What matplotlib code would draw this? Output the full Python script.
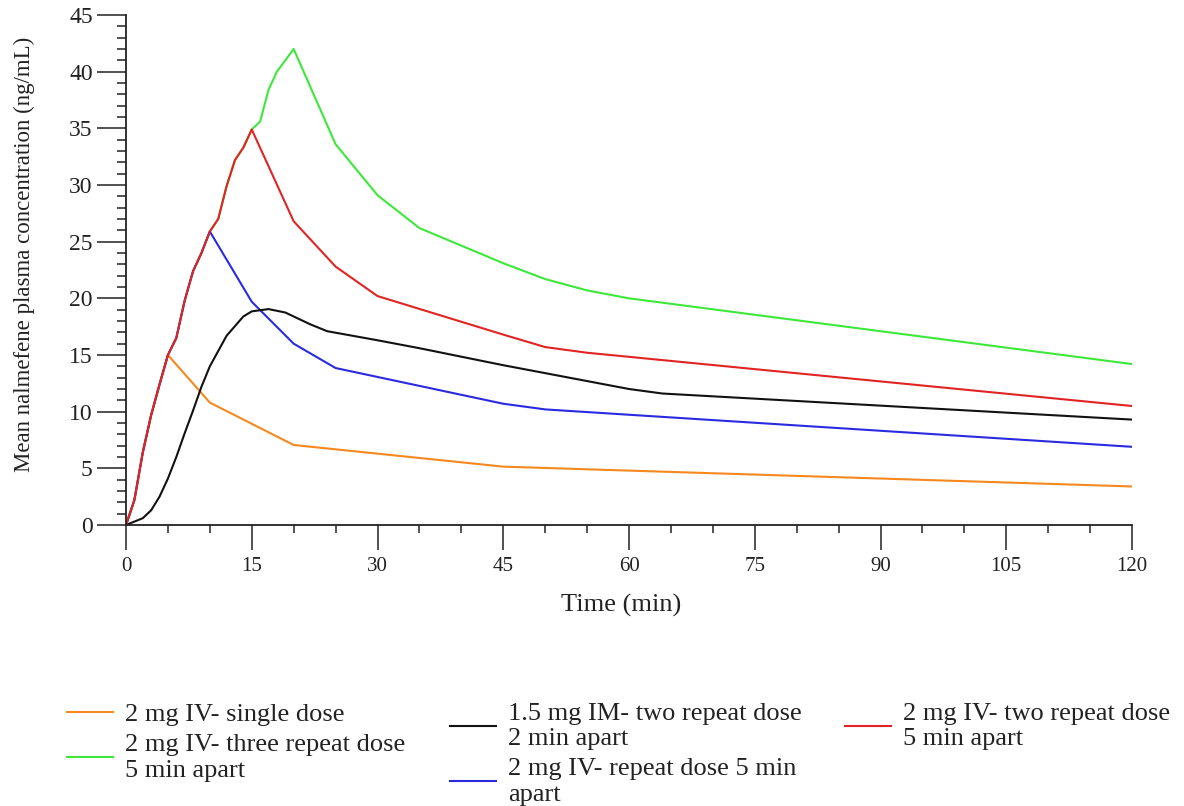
import matplotlib
matplotlib.use('Agg')
import matplotlib.pyplot as plt
from matplotlib.ticker import MultipleLocator

plt.rcParams['font.family'] = ['Liberation Serif', 'DejaVu Serif']

# time (min) / mean plasma concentration (ng/mL)
rise_t = [0, 1, 2, 3, 4, 5, 6, 7, 8, 9, 10, 11, 12, 13, 14, 15]
rise_c = [0, 2.2, 6.4, 9.7, 12.4, 15.0, 16.5, 19.8, 22.4, 24.0, 25.9, 27.0, 29.9, 32.2, 33.3, 34.9]

single_t = [0, 1, 2, 3, 4, 5, 10, 20, 45, 120]
single_c = [0, 2.2, 6.4, 9.7, 12.4, 15.0, 10.8, 7.06, 5.15, 3.4]

three_t = rise_t + [16, 17, 18, 20, 25, 30, 35, 45, 50, 55, 60, 120]
three_c = rise_c + [35.6, 38.4, 40.0, 42.0, 33.6, 29.1, 26.2, 23.1, 21.7, 20.7, 20.0, 14.2]

im_t = [0, 2, 3, 4, 5, 6, 7, 8, 9, 10, 12, 14, 15, 17, 19, 20, 22, 24, 30, 35, 45, 50, 55, 60, 64, 120]
im_c = [0, 0.6, 1.3, 2.5, 4.1, 6.0, 8.1, 10.1, 12.2, 14.0, 16.7, 18.4, 18.85, 19.05, 18.75, 18.4, 17.7, 17.1, 16.3, 15.6, 14.1, 13.4, 12.7, 12.0, 11.6, 9.3]

two5_t = rise_t + [20, 25, 30, 45, 50, 55, 120]
two5_c = rise_c + [26.8, 22.8, 20.2, 16.8, 15.7, 15.2, 10.5]

rep_t = rise_t[:11] + [15, 20, 25, 45, 50, 120]
rep_c = rise_c[:11] + [19.7, 16.0, 13.85, 10.7, 10.2, 6.9]

labels = ['2 mg IV- single dose',
          '2 mg IV- three repeat dose\n5 min apart',
          '1.5 mg IM- two repeat dose\n2 min apart',
          '2 mg IV- repeat dose 5 min\napart',
          '2 mg IV- two repeat dose\n5 min apart']
colors = ['#f7881f', '#3ee83a', '#111111', '#2a2ae0', '#e02424']

fig = plt.figure(figsize=(11.84, 8.06), dpi=100)
ax = fig.add_axes([126 / 1184, 1 - 525 / 806, 1006 / 1184, 510 / 806])

series = [(single_t, single_c), (three_t, three_c), (im_t, im_c),
          (rep_t, rep_c), (two5_t, two5_c)]
# draw order: red on top of the shared rising part
order = [1, 0, 3, 2, 4]
handles = [None] * 5
for i in order:
    t, c = series[i]
    handles[i], = ax.plot(t, c, color=colors[i], lw=1.5, label=labels[i])

ax.set_xlim(0, 120)
ax.set_ylim(0, 45)
ax.spines['top'].set_visible(False)
ax.spines['right'].set_visible(False)
for s in ['left', 'bottom']:
    ax.spines[s].set_linewidth(1.3)
    ax.spines[s].set_color('#222222')

ax.xaxis.set_major_locator(MultipleLocator(15))
ax.xaxis.set_minor_locator(MultipleLocator(5))
ax.yaxis.set_major_locator(MultipleLocator(5))
ax.yaxis.set_minor_locator(MultipleLocator(1))
ax.tick_params(axis='y', which='major', direction='out', length=21, width=1.1,
               pad=3, labelsize=17, colors='#222222')
ax.tick_params(axis='y', which='minor', direction='out', length=6.5, width=1.1,
               colors='#222222')
ax.tick_params(axis='x', which='major', direction='out', length=18, width=1.1,
               pad=5, labelsize=15, colors='#222222')
ax.tick_params(axis='x', which='minor', direction='out', length=6, width=1.1,
               colors='#222222')

ax.set_xlabel('Time (min)', fontsize=19, color='#222222')
ax.xaxis.set_label_coords(0.492, -0.135)
ax.set_ylabel('Mean nalmefene plasma concentration (ng/mL)', fontsize=16.5, color='#222222')
ax.yaxis.set_label_coords(-0.0905, 0.53)

# legend: three columns under the plot
columns = [([0, 1], 67), ([2, 3], 450), ([4], 845)]
for idx, xpos in columns:
    leg = fig.legend([handles[i] for i in idx], [labels[i] for i in idx],
                     loc='upper left', bbox_to_anchor=(xpos / 1184, 1 - 703 / 806),
                     frameon=False, fontsize=19, handlelength=1.75,
                     handletextpad=0.45, labelspacing=0.3, borderpad=0,
                     borderaxespad=0)
    for txt in leg.get_texts():
        txt.set_linespacing(1.2)
        txt.set_color('#222222')

fig.savefig('out.png', dpi=100)
